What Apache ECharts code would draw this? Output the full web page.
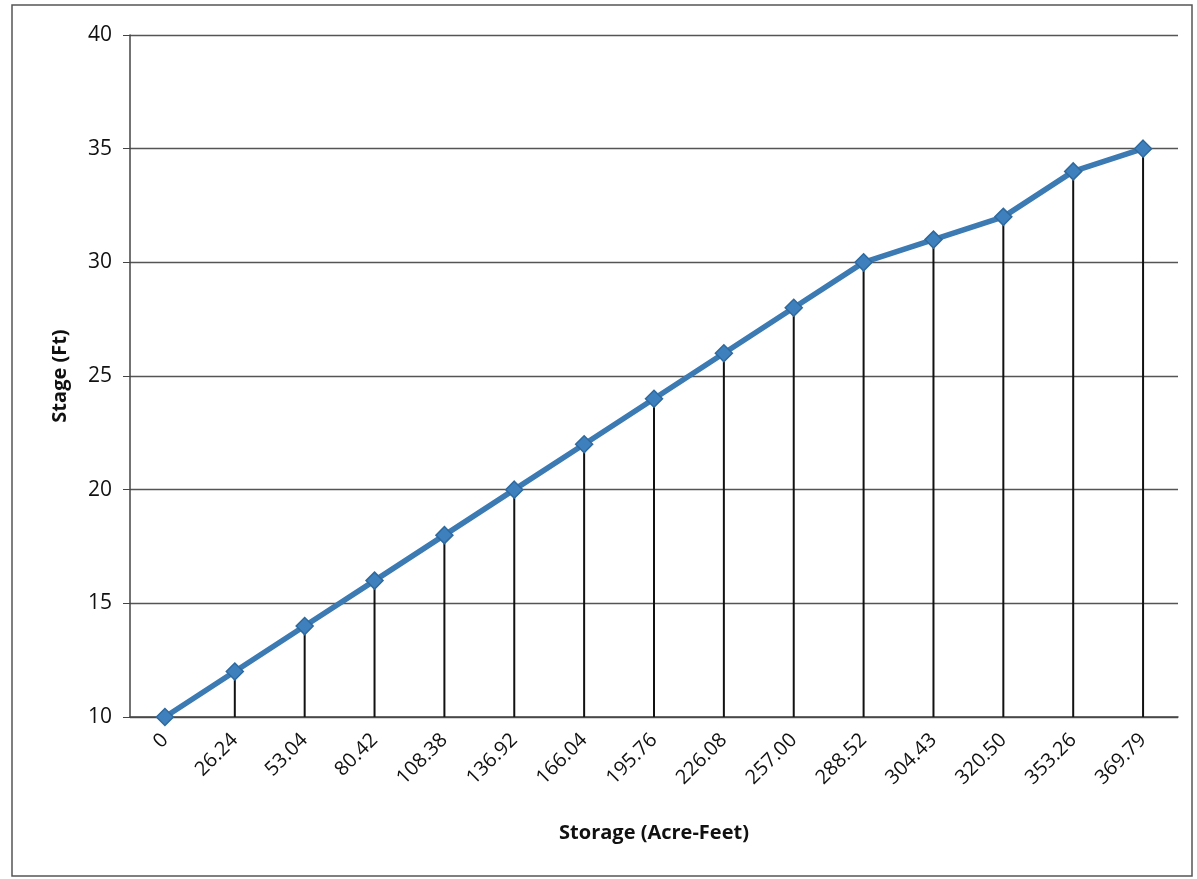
<!DOCTYPE html>
<html><head><meta charset="utf-8">
<script src="https://cdn.jsdelivr.net/npm/echarts@6/dist/echarts.min.js"></script>
<style>html,body{margin:0;padding:0;background:#fff}#c{width:1197px;height:879px}</style>
</head><body><div id="c"></div>
<script>
var storage = ['0','26.24','53.04','80.42','108.38','136.92','166.04','195.76','226.08','257.00','288.52','304.43','320.50','353.26','369.79'];
var stage = [10,12,14,16,18,20,22,24,26,28,30,31,32,34,35];
var yTicks = {min:10, max:40, interval:5};

var chart = echarts.init(document.getElementById('c'));
var font = '"Open Sans", "Noto Sans", sans-serif';
chart.setOption({
  animation:false,
  graphic:[{type:'rect',shape:{x:12,y:5,width:1180,height:871},style:{fill:'none',stroke:'#555',lineWidth:1.5},silent:true}],
  grid:{left:130,right:19,top:35,bottom:162,containLabel:false},
  xAxis:{type:'category',data:storage,boundaryGap:true,
    name:'Storage (Acre-Feet)',nameLocation:'middle',nameGap:106,
    nameTextStyle:{fontFamily:font,fontSize:20,fontWeight:'bold',color:'#111'},
    axisLine:{lineStyle:{color:'#444',width:1.5}},axisTick:{show:false},
    axisLabel:{rotate:45,fontFamily:font,fontSize:20,color:'#111',margin:20,interval:0},
    splitLine:{show:false}},
  yAxis:{type:'value',min:yTicks.min,max:yTicks.max,interval:yTicks.interval,
    name:'Stage (Ft)',nameLocation:'middle',nameGap:60,
    nameTextStyle:{fontFamily:font,fontSize:20,fontWeight:'bold',color:'#111'},
    axisLine:{show:true,lineStyle:{color:'#444',width:1.5}},
    axisTick:{show:true,length:7,lineStyle:{color:'#444'}},
    axisLabel:{fontFamily:font,fontSize:21,color:'#111',margin:18},
    splitLine:{lineStyle:{color:'#555',width:1.3}}},
  series:[
    {type:'bar',data:stage,barWidth:2,itemStyle:{color:'#111'},z:1,silent:true},
    {type:'line',data:stage,z:3,symbol:'diamond',symbolSize:17,
      lineStyle:{color:'#3b7ab3',width:5.5},
      itemStyle:{color:'#3e80bd',borderColor:'#2f6a9f',borderWidth:1.5}}
  ]
});
</script></body></html>
